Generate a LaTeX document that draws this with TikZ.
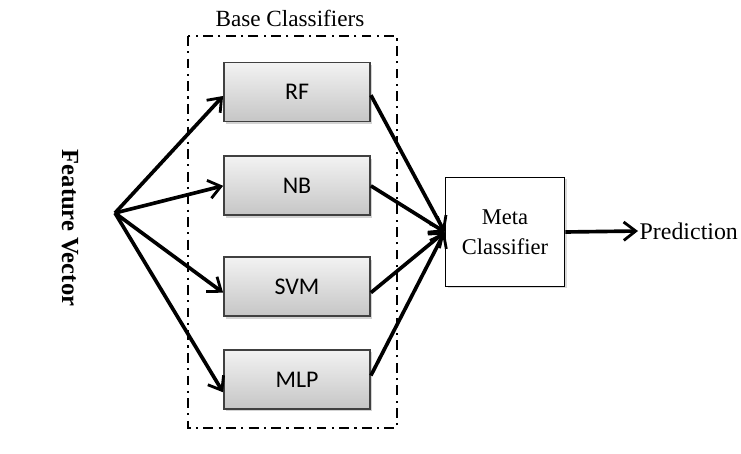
\documentclass[tikz,border=0pt]{standalone}
\usepackage{fontspec}
\setmainfont{Liberation Serif}
\newfontfamily\boxfont{Carlito}
\usetikzlibrary{positioning, arrows.meta, shadows}

\begin{document}
\begin{tikzpicture}[
    arr/.style={-{Straight Barb[length=3mm, width=4.6mm, line width=2pt]}, line width=2.6pt, black},
    base/.style={draw=black!75, line width=1.3pt, top color=gray!10, bottom color=gray!45,
        minimum width=3.65cm, minimum height=1.475cm, font=\boxfont\fontsize{17}{19}\selectfont,
        drop shadow={shadow xshift=0.6mm, shadow yshift=-0.6mm, opacity=0.35}},
    every node/.style={align=center}]
    \useasboundingbox (0,0) rectangle (18.525,-11.35);

    % Base classifier group
    \node (title) at (7.25,-0.45) {\fontsize{16.5}{18}\selectfont Base Classifiers};
    \draw[line width=1.9pt, dash pattern=on 7pt off 3.8pt on 1.5pt off 3.8pt] (4.7,-0.9) rectangle (9.925,-10.7);
    \node (rf) [base] at (7.425,-2.3) {RF};
    \node (nb) [base, below=0.825cm of rf] {NB};
    \node (svm) [base, below=1.0cm of nb] {SVM};
    \node (mlp) [base, below=0.8cm of svm] {MLP};

    % Input
    \node (feat) [rotate=-90, font=\bfseries\fontsize{17.5}{19}\selectfont] at (1.75,-5.7) {Feature Vector};
    \coordinate (fan) at (2.875,-5.325);

    % Meta level
    \node (meta) [draw, line width=1.2pt, fill=white, minimum width=2.975cm, minimum height=2.725cm,
        font=\fontsize{16}{21}\selectfont,
        drop shadow={shadow xshift=0.5mm, shadow yshift=-0.5mm, opacity=0.3}] at (12.625,-5.8) {Meta\\Classifier};
    \node (pred) [anchor=west, inner sep=1pt, font=\fontsize{17}{19}\selectfont] at (15.95,-5.775) {Prediction};

    % Connection arrows
    \draw[arr] (fan) -- ([yshift=-0.1cm]rf.west);
    \draw[arr] (fan) -- (nb.west);
    \draw[arr] (fan) -- ([yshift=-0.15cm]svm.west);
    \draw[arr] (fan) -- ([yshift=-0.32cm]mlp.west);
    \draw[arr] ([yshift=-0.08cm]rf.east) -- (meta.west);
    \draw[arr] (nb.east) -- (meta.west);
    \draw[arr] ([yshift=-0.15cm]svm.east) -- (meta.west);
    \draw[arr] ([yshift=0.1cm]mlp.east) -- (meta.west);
    \draw[arr] (meta.east) -- (pred.west);
\end{tikzpicture}
\end{document}
